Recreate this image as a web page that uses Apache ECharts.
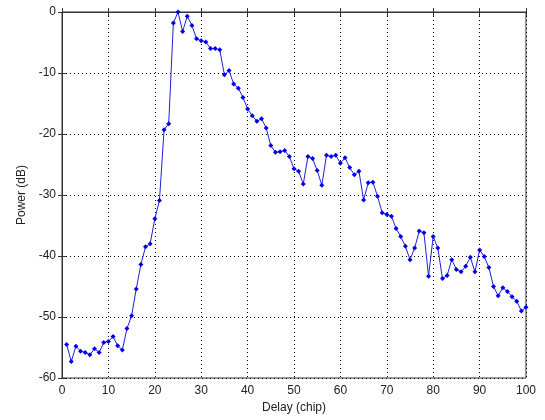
<!DOCTYPE html>
<html>
<head>
<meta charset="utf-8">
<script src="https://cdn.jsdelivr.net/npm/echarts@6/dist/echarts.min.js"></script>
<style>html,body{margin:0;padding:0;background:#fff}#c{width:545px;height:420px}</style>
</head>
<body>
<div id="c"></div>
<script>
const delay = [];
for (let i = 1; i <= 100; i++) delay.push(i);
const power = [
 -54.5,-57.3,-54.8,-55.6,-55.8,-56.2,-55.2,-55.8,-54.2,-54.0,
 -53.2,-54.7,-55.4,-51.9,-49.8,-45.4,-41.4,-38.5,-38.0,-33.9,
 -30.9,-19.3,-18.3,-1.8,0,-3.2,-0.7,-2.2,-4.4,-4.7,
 -4.9,-6.0,-6.0,-6.2,-10.3,-9.6,-11.8,-12.5,-14.0,-15.9,
 -17.0,-17.9,-17.5,-19.0,-21.9,-23.0,-22.9,-22.7,-23.7,-25.7,
 -26.1,-28.2,-23.7,-24.0,-26.0,-28.4,-23.5,-23.7,-23.5,-24.8,
 -23.9,-25.5,-26.7,-26.1,-30.8,-28.0,-27.9,-30.2,-32.9,-33.2,
 -33.5,-35.5,-36.8,-38.4,-40.6,-38.7,-35.9,-36.2,-43.3,-36.8,
 -38.7,-43.7,-43.2,-40.6,-42.2,-42.6,-41.7,-40.2,-42.6,-39.0,
 -40.1,-41.9,-45.0,-46.5,-45.2,-45.8,-46.7,-47.4,-49.0,-48.4
];
const xName = 'Delay (chip)';
const yName = 'Power (dB)';

const font = 'Liberation Sans';
const chart = echarts.init(document.getElementById('c'));
const lbl = {color:'#222', fontFamily:font, fontSize:12};
chart.setOption({
  animation:false,
  backgroundColor:'#fff',
  grid:{left:62,right:19,top:12,bottom:42,show:true,borderColor:'#333',borderWidth:1},
  xAxis:[{
    type:'value',min:0,max:100,interval:10,
    name:xName,nameLocation:'middle',nameGap:20,
    nameTextStyle:{color:'#222',fontFamily:font,fontSize:12},
    axisLine:{lineStyle:{color:'#333'}},
    axisTick:{inside:true,length:4,lineStyle:{color:'#333'}},
    axisLabel:Object.assign({margin:7},lbl),
    splitLine:{show:true,lineStyle:{type:[1,3],color:'#000',width:1}}
  },{
    type:'value',min:0,max:100,interval:10,position:'top',
    axisLine:{show:false},axisTick:{inside:true,length:4,lineStyle:{color:'#333'}},
    axisLabel:{show:false},splitLine:{show:false}
  }],
  yAxis:[{
    type:'value',min:-60,max:0,interval:10,
    name:yName,nameLocation:'middle',nameGap:32,
    nameTextStyle:{color:'#222',fontFamily:font,fontSize:12},
    axisLine:{show:true,lineStyle:{color:'#333'}},
    axisTick:{show:true,inside:true,length:4,lineStyle:{color:'#333'}},
    axisLabel:Object.assign({margin:6},lbl),
    splitLine:{show:true,lineStyle:{type:[1,3],color:'#000',width:1}}
  },{
    type:'value',min:-60,max:0,interval:10,position:'right',
    axisLine:{show:false},axisTick:{show:true,inside:true,length:4,lineStyle:{color:'#333'}},
    axisLabel:{show:false},splitLine:{show:false}
  }],
  series:[{
    type:'line',
    data:delay.map((d,i)=>[d,power[i]]),
    symbol:'diamond',symbolSize:5,
    lineStyle:{color:'#2020d8',width:1},
    itemStyle:{color:'#0000ee'},
    clip:false
  }]
});
</script>
</body>
</html>
